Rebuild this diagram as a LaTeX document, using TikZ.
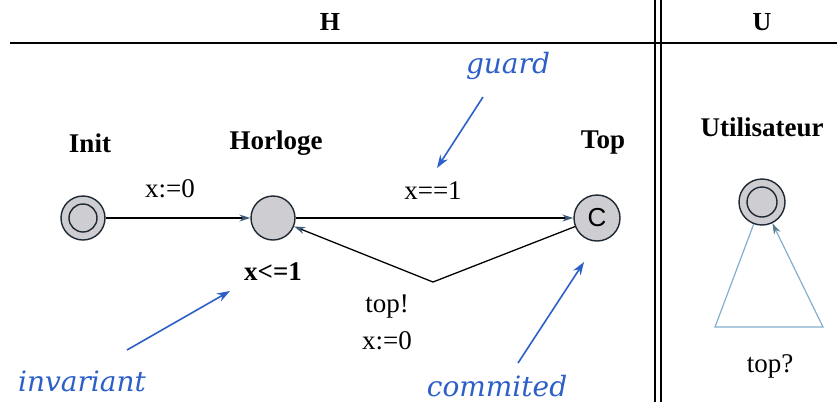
\documentclass[tikz,border=0pt]{standalone}
\usepackage{fontspec}
\setmainfont{Liberation Serif}
\newfontfamily\annfont{DejaVu Serif}
\newfontfamily\csans{Liberation Sans}
\usetikzlibrary{arrows.meta}
\definecolor{locfill}{RGB}{205,205,210}
\definecolor{locdraw}{RGB}{30,40,50}
\definecolor{annblue}{RGB}{45,95,200}
\definecolor{loopblue}{RGB}{130,175,205}
\definecolor{tipcol}{RGB}{60,90,120}
\begin{document}
\begin{tikzpicture}[x=1pt,y=-1pt,
  loc/.style={circle,draw=locdraw,fill=locfill,line width=1.4pt,minimum size=44pt,inner sep=0pt},
  title/.style={font=\fontsize{27}{30}\selectfont\bfseries},
  lab/.style={font=\fontsize{27}{30}\selectfont},
  blab/.style={font=\fontsize{27}{30}\selectfont\bfseries},
  ann/.style={font=\annfont\itshape\fontsize{28}{32}\selectfont,text=annblue},
  edge/.style={draw=black,line width=1.3pt,-{Stealth[length=11pt,width=7pt,color=tipcol]}},
  annarrow/.style={draw=annblue,line width=1.6pt,-{Stealth[length=13pt,width=9pt]}},
  loopedge/.style={draw=loopblue,line width=1.2pt,-{Stealth[length=11pt,width=7pt,color=loopblue!70!black]}}
]
\useasboundingbox (0,0) rectangle (837,402);
% frame
\draw[line width=2pt,black] (10,43) -- (837,43);
\draw[line width=2pt,black] (655,0) -- (655,402);
\draw[line width=2pt,black] (661,0) -- (661,402);
\node[font=\fontsize{26}{28}\selectfont\bfseries] (hH) at (330,22) {H};
\node[font=\fontsize{26}{28}\selectfont\bfseries] (hU) at (762,22) {U};
% locations
\node[loc] (init) at (83,218) {};
\draw[draw=locdraw,line width=1.4pt] (init) circle[radius=14pt];
\node[loc] (horloge) at (273,218) {};
\node[loc,minimum size=46pt,font=\csans\fontsize{26}{30}\selectfont] (top) at (597,218) {C};
\node[loc,minimum size=46pt] (user) at (762,202) {};
\draw[draw=locdraw,line width=1.4pt] (user) circle[radius=15pt];
% names
\node[title] (ninit) at (90,143) {Init};
\node[title] (nhorloge) at (276,143) {Horloge};
\node[title] (ntop) at (603,143) {Top};
\node[title] (nuser) at (762,127) {Utilisateur};
% edges
\coordinate (v) at (433,282);
\draw[edge] (init) -- (horloge);
\draw[edge] (horloge) -- (top);
\draw[edge] (top) -- (v) -- (horloge);
\coordinate (tl) at (715,327);
\coordinate (tr) at (823,327);
\draw[loopedge] (user) -- (tl) -- (tr) -- (user);
% labels
\node[lab] (l1) at (170,189) {x:=0};
\node[lab] (l2) at (433,191) {x==1};
\node[blab] (l3) at (273,272) {x<=1};
\node[lab] (l4) at (387,307) {top!};
\node[lab] (l5) at (387,341) {x:=0};
\node[lab] (l6) at (770,366) {top?};
% annotations
\node[ann] (guard) at (508,66) {guard};
\node[ann] (invariant) at (82,381) {invariant};
\node[ann] (commited) at (497,386) {commited};
\coordinate (ga) at (483,97);
\coordinate (gb) at (437,168);
\coordinate (ia) at (127,350);
\coordinate (ib) at (230,291);
\coordinate (ca) at (518,363);
\coordinate (cb) at (584,262);
\draw[annarrow] (ga) -- (gb);
\draw[annarrow] (ia) -- (ib);
\draw[annarrow] (ca) -- (cb);
\end{tikzpicture}
\end{document}
